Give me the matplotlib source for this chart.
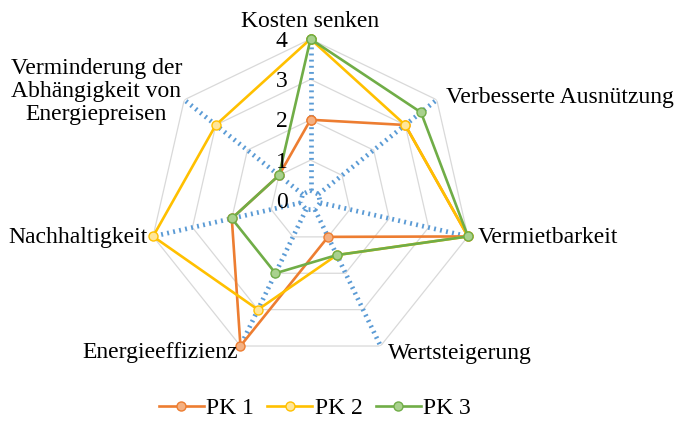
import numpy as np
import matplotlib
matplotlib.use('Agg')
import matplotlib.pyplot as plt

plt.rcParams['font.family'] = ['Liberation Serif', 'DejaVu Serif']

# chart data
categories = ['Kosten senken', 'Verbesserte Ausnützung', 'Vermietbarkeit',
              'Wertsteigerung', 'Energieeffizienz', 'Nachhaltigkeit',
              'Verminderung der\nAbhängigkeit von\nEnergiepreisen']
pk1 = [2, 3, 4, 1, 4, 2, 1]
pk2 = [4, 3, 4, 1.5, 3, 4, 3]
pk3 = [4, 3.5, 4, 1.5, 2, 2, 1]
series_names = ['PK 1', 'PK 2', 'PK 3']
ticks = [0, 1, 2, 3, 4]

line_cols = ['#ED7D31', '#FFC000', '#70AD47']
face_cols = ['#F4B183', '#FFE699', '#A9D18E']
grid_col = '#D9D9D9'
spoke_col = '#5B9BD5'
fs = 17

n = len(categories)
theta = 2 * np.pi * np.arange(n) / n
theta_closed = np.append(theta, theta[0])

fig = plt.figure(figsize=(6.74, 4.30), dpi=100)
ax = fig.add_axes([0.2211, 0.1581, 0.4792, 0.7512], projection='polar')
ax.set_theta_zero_location('N')
ax.set_theta_direction(-1)
ax.set_ylim(0, 4)
ax.grid(False)
ax.spines['polar'].set_visible(False)
ax.set_xticks([])
ax.set_yticks([])
ax.patch.set_alpha(0)

# grey heptagon gridlines
for t in ticks[1:]:
    ax.plot(theta_closed, [t] * (n + 1), color=grid_col, lw=0.9, zorder=1)

# dotted spokes + small inner ring
dot = (0, (0.4, 0.9))
for th in theta:
    ax.plot([th, th], [0.25, 4], color=spoke_col, lw=3.4, ls=dot,
            dash_capstyle='butt', zorder=2)
ax.plot(theta_closed, [0.25] * (n + 1), color=spoke_col, lw=3.4, ls=dot,
        dash_capstyle='butt', zorder=2)

# data series
for vals, name, lc, fc in zip([pk1, pk2, pk3], series_names, line_cols, face_cols):
    v = np.append(vals, vals[0])
    ax.plot(theta_closed, v, color=lc, lw=1.9, marker='o', ms=6.5,
            mfc=fc, mec=lc, mew=1.0, label=name, zorder=3, clip_on=False)

# value labels along the top spoke
for t in ticks:
    ax.annotate(str(t), xy=(0, t), xytext=(-23, -2), textcoords='offset pixels',
                ha='right', va='center', fontsize=fs, annotation_clip=False)

# category labels
lab_pos = [
    ((0, 12), 'center', 'baseline'),
    ((9, 2), 'left', 'center'),
    ((10, -1), 'left', 'center'),
    ((7, -7), 'left', 'center'),
    ((-3, -6), 'right', 'center'),
    ((-5, -1), 'right', 'center'),
    ((-88, 8), 'center', 'center'),
]
for th, lab, (off, ha, va) in zip(theta, categories, lab_pos):
    ax.annotate(lab, xy=(th, 4), xytext=off, textcoords='offset pixels',
                ha=ha, va=va, multialignment='center', linespacing=1.12,
                fontsize=fs, annotation_clip=False)

fig.legend(loc='center', bbox_to_anchor=(315 / 674, 22 / 430), ncol=3,
           frameon=False, fontsize=fs, handlelength=1.9, handletextpad=0.12,
           columnspacing=0.55)

fig.savefig('out.png', dpi=100)
